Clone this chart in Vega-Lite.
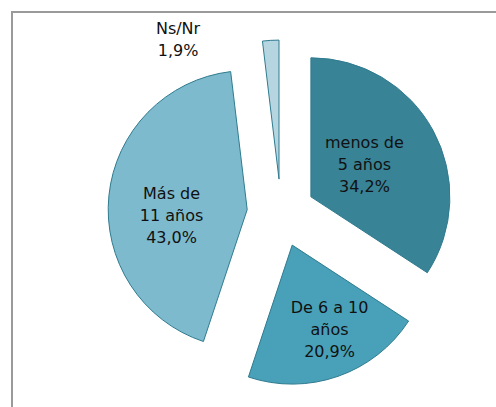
{
  "$schema": "https://vega.github.io/schema/vega-lite/v6.json",
  "autosize": {"type": "fit", "contains": "padding"},
  "width": 496,
  "height": 407,
  "padding": {"left": 12, "top": 12, "right": 0, "bottom": 0},
  "background": "white",
  "view": {"stroke": "#9a9a9a", "strokeWidth": 2, "strokeDash": [484, 879, 395]},
  "config": {
    "text": {"font": "DejaVu Sans", "fontSize": 16, "color": "#111111"}
  },
  "data": {
    "values": [
      {"cat": "menos de 5 años", "orden": 1, "value": 34.2, "label": "menos de\n5 años\n34,2%"},
      {"cat": "De 6 a 10 años", "orden": 2, "value": 20.9, "label": "De 6 a 10\naños\n20,9%"},
      {"cat": "Más de 11 años", "orden": 3, "value": 43.0, "label": "Más de\n11 años\n43,0%"},
      {"cat": "Ns/Nr", "orden": 4, "value": 1.9, "label": "Ns/Nr\n1,9%"}
    ]
  },
  "encoding": {
    "theta": {"field": "value", "type": "quantitative", "stack": true},
    "order": {"field": "orden", "type": "quantitative"}
  },
  "layer": [
    {
      "mark": {"type": "arc", "radius": 139, "xOffset": 56.9, "yOffset": -12.7, "stroke": "#2f7b8f", "strokeWidth": 1},
      "encoding": {
        "color": {"field": "cat", "type": "nominal", "legend": null,
          "scale": {"domain": ["menos de 5 años", "De 6 a 10 años", "Más de 11 años", "Ns/Nr"], "range": ["#388396", "#48a1b9", "#7ebacd", "#b5d6e1"]}},
        "opacity": {"condition": {"test": "datum.cat === 'menos de 5 años'", "value": 1}, "value": 0}
      }
    },
    {
      "mark": {"type": "arc", "radius": 139, "xOffset": 38.2, "yOffset": 35.6, "stroke": "#2f7b8f", "strokeWidth": 1},
      "encoding": {
        "color": {"field": "cat", "type": "nominal", "legend": null},
        "opacity": {"condition": {"test": "datum.cat === 'De 6 a 10 años'", "value": 1}, "value": 0}
      }
    },
    {
      "mark": {"type": "arc", "radius": 139, "xOffset": -6.8, "yOffset": 0.1, "stroke": "#2f7b8f", "strokeWidth": 1},
      "encoding": {
        "color": {"field": "cat", "type": "nominal", "legend": null},
        "opacity": {"condition": {"test": "datum.cat === 'Más de 11 años'", "value": 1}, "value": 0}
      }
    },
    {
      "mark": {"type": "arc", "radius": 139, "xOffset": 25.0, "yOffset": -30.4, "stroke": "#2f7b8f", "strokeWidth": 1},
      "encoding": {
        "color": {"field": "cat", "type": "nominal", "legend": null},
        "opacity": {"condition": {"test": "datum.cat === 'Ns/Nr'", "value": 1}, "value": 0}
      }
    },
    {
      "mark": {"type": "text", "radius": 62, "xOffset": 56.9, "yOffset": -12.7, "dx": -1, "dy": -24, "lineBreak": "\n", "lineHeight": 22, "align": "center", "baseline": "middle"},
      "encoding": {
        "text": {"field": "label"},
        "opacity": {"condition": {"test": "datum.cat === 'menos de 5 años'", "value": 1}, "value": 0}
      }
    },
    {
      "mark": {"type": "text", "radius": 92, "xOffset": 38.2, "yOffset": 35.6, "dx": 7, "dy": -24, "lineBreak": "\n", "lineHeight": 22, "align": "center", "baseline": "middle"},
      "encoding": {
        "text": {"field": "label"},
        "opacity": {"condition": {"test": "datum.cat === 'De 6 a 10 años'", "value": 1}, "value": 0}
      }
    },
    {
      "mark": {"type": "text", "radius": 74, "xOffset": -6.8, "yOffset": 0.1, "dx": -2, "dy": -8, "lineBreak": "\n", "lineHeight": 22, "align": "center", "baseline": "middle"},
      "encoding": {
        "text": {"field": "label"},
        "opacity": {"condition": {"test": "datum.cat === 'Más de 11 años'", "value": 1}, "value": 0}
      }
    },
    {
      "mark": {"type": "text", "radius": 100, "xOffset": 25.0, "yOffset": -30.4, "dx": -95, "dy": -50, "lineBreak": "\n", "lineHeight": 22, "align": "center", "baseline": "middle"},
      "encoding": {
        "text": {"field": "label"},
        "opacity": {"condition": {"test": "datum.cat === 'Ns/Nr'", "value": 1}, "value": 0}
      }
    }
  ]
}
